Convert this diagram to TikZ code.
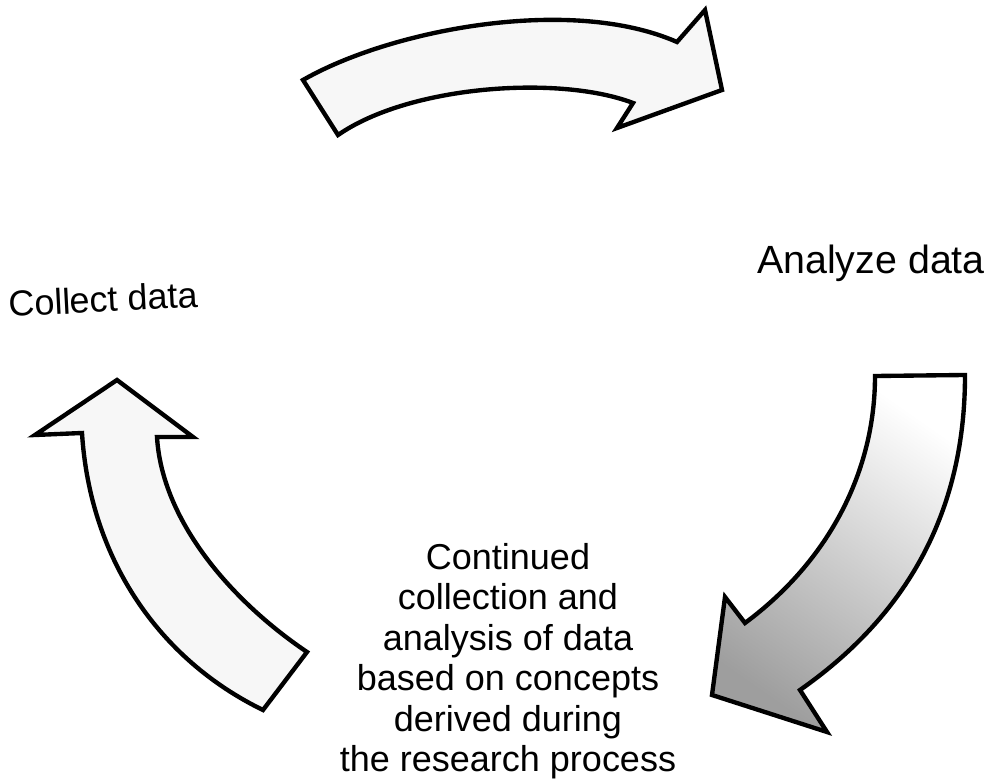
\documentclass[tikz,border=0pt]{standalone}
\usepackage{fontspec}
\setmainfont{Liberation Sans}
\begin{document}
\begin{tikzpicture}[x=0.025cm, y=-0.025cm,
  bigarrow/.style={draw=black, line width=3.1pt, line join=miter, fill=black!3},
  label/.style={font=\fontsize{25.6}{28.8}\selectfont, inner sep=0pt}]
\useasboundingbox (0,0) rectangle (992,780);

% top arc arrow, pointing right
\draw[bigarrow] (303,80) .. controls (390,30) and (570,-5) .. (677,42)
  -- (705,10) -- (722,90) -- (617,128) -- (633,103)
  .. controls (560,75) and (410,85) .. (338,135) -- cycle;

% right arc arrow, pointing down-left, darker towards the head
\draw[bigarrow, top color=white, middle color=white, bottom color=black!38, shading angle=-35]
  (875,376) -- (965,375) .. controls (965,520) and (900,620) .. (800,690)
  -- (827,732) -- (712,695) -- (725,597) -- (745,623)
  .. controls (830,560) and (875,470) .. cycle;

% left arc arrow, pointing up
\draw[bigarrow] (117,380) -- (193,437) -- (157,437)
  .. controls (162,520) and (230,600) .. (307,652) -- (263,710)
  .. controls (160,660) and (90,560) .. (82,433) -- (35,435) -- cycle;

\node[label, anchor=base, rotate=3] (collect) at (104,312) {Collect data};
\node[label, anchor=base, font=\fontsize{28}{32}\selectfont] (analyze) at (871,274) {Analyze data};
\node[label, anchor=north, align=center] (continued) at (508,543)
  {Continued\\collection and\\analysis of data\\based on concepts\\derived during\\the research process};
\end{tikzpicture}
\end{document}
